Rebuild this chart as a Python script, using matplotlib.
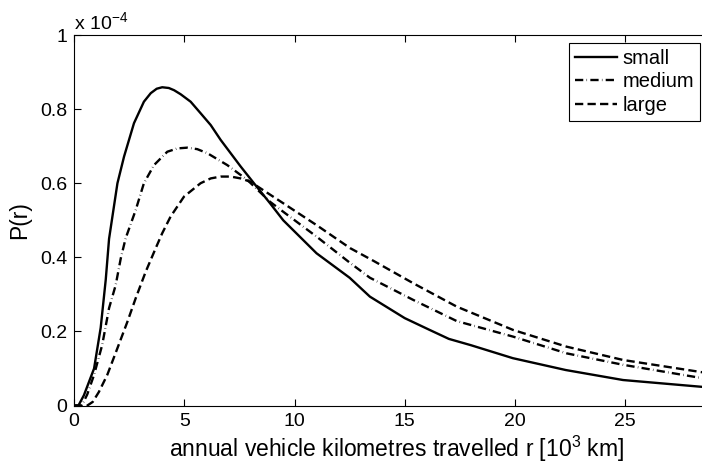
import numpy as np
import matplotlib
matplotlib.use("Agg")
import matplotlib.pyplot as plt

plt.rcParams['font.family'] = ['Liberation Sans', 'DejaVu Sans']
plt.rcParams['mathtext.default'] = 'regular'

# annual distance r in 10^3 km, probability density P(r) in units of 1e-4
r_small = [0, 0.2, 0.45, 0.91, 1.21, 1.44, 1.59, 1.97, 2.27, 2.72, 3.17, 3.48, 3.75, 4.0,
           4.3, 4.54, 4.84, 5.29, 5.74, 6.2, 6.65, 7.56, 8.16, 8.89, 9.49, 11.0, 12.5,
           13.42, 15.0, 16.1, 17.0, 18.0, 19.9, 22.3, 24.9, 28.6, 29.5]
p_small = [0, 0, 0.028, 0.10, 0.21, 0.34, 0.45, 0.60, 0.672, 0.762, 0.82, 0.843, 0.855, 0.859,
           0.857, 0.851, 0.84, 0.82, 0.789, 0.757, 0.717, 0.645, 0.60, 0.546, 0.50, 0.411, 0.345,
           0.294, 0.236, 0.205, 0.18, 0.163, 0.128, 0.096, 0.069, 0.05, 0.047]

r_medium = [0, 0.35, 0.6, 0.91, 1.28, 1.59, 1.89, 2.12, 2.34, 2.8, 3.17, 3.63, 4.23, 4.69,
            5.14, 5.59, 6.05, 6.95, 7.86, 8.89, 9.49, 11.0, 12.52, 13.42, 15.39, 17.36,
            19.92, 22.34, 24.91, 28.6, 29.5]
p_medium = [0, 0, 0.03, 0.083, 0.164, 0.263, 0.325, 0.397, 0.451, 0.528, 0.60, 0.649, 0.685, 0.694,
            0.696, 0.692, 0.681, 0.649, 0.609, 0.55, 0.523, 0.456, 0.385, 0.345, 0.285, 0.228,
            0.186, 0.141, 0.11, 0.073, 0.069]

r_large = [0, 0.6, 0.85, 1.13, 1.51, 1.97, 2.42, 2.8, 3.25, 3.7, 4.0, 4.38, 4.99, 5.74,
           6.2, 6.65, 7.1, 7.56, 8.0, 9.49, 11.0, 12.52, 13.6, 15.39, 17.36, 19.92, 22.34,
           24.91, 28.6, 29.5]
p_large = [0, 0, 0.01, 0.037, 0.083, 0.155, 0.226, 0.29, 0.361, 0.424, 0.465, 0.51, 0.564, 0.60,
           0.613, 0.618, 0.618, 0.613, 0.604, 0.546, 0.487, 0.425, 0.39, 0.33, 0.267, 0.204,
           0.159, 0.123, 0.089, 0.084]

y_ticks = [0, 0.2, 0.4, 0.6, 0.8, 1]
y_tick_labels = ['0', '0.2', '0.4', '0.6', '0.8', '1']
x_ticks = [0, 5, 10, 15, 20, 25]

W, H = 702, 466
fig = plt.figure(figsize=(W / 100, H / 100), dpi=100)
# axes box runs past the right edge of the figure
left, right, top, bottom = 74, 720, 35, 405.6
ax = fig.add_axes([left / W, 1 - bottom / H, (right - left) / W, (bottom - top) / H])

lw = 1.7
ax.plot(r_small, p_small, color='black', lw=lw, linestyle='-', label='small')
ax.plot(r_medium, p_medium, color='black', lw=lw, linestyle=(0, (3.5, 1.4, 0.2, 1.4)),
        label='medium')
ax.plot(r_large, p_large, color='black', lw=lw, linestyle=(0, (3.5, 1.8)), label='large')

ax.set_xlim(0, (right - left) / 22.05)
ax.set_ylim(0, 1)
ax.set_xticks(x_ticks)
ax.set_xticklabels([str(t) for t in x_ticks])
ax.set_yticks(y_ticks)
ax.set_yticklabels(y_tick_labels)
ax.tick_params(direction='in', length=5, width=0.8, labelsize=14, top=True, right=True,
               pad=5)
for s in ax.spines.values():
    s.set_linewidth(0.8)

ax.set_xlabel('annual vehicle kilometres travelled r [10$^3$ km]', fontsize=16.5, labelpad=3)
ax.set_ylabel('P(r)', fontsize=16.5, labelpad=6)
fig.text(left / W, 1 - 29 / H, 'x 10$^{-4}$', fontsize=14, ha='left', va='baseline')

leg = ax.legend(loc='upper left', bbox_to_anchor=(569 / W, 1 - 42.7 / H),
                bbox_transform=fig.transFigure, borderaxespad=0, fancybox=False,
                fontsize=14.5, handlelength=2.1, handletextpad=0.25, labelspacing=0.22,
                borderpad=0.3, framealpha=1)
leg.get_frame().set_edgecolor('black')
leg.get_frame().set_linewidth(0.8)

fig.savefig('out.png', dpi=100)
